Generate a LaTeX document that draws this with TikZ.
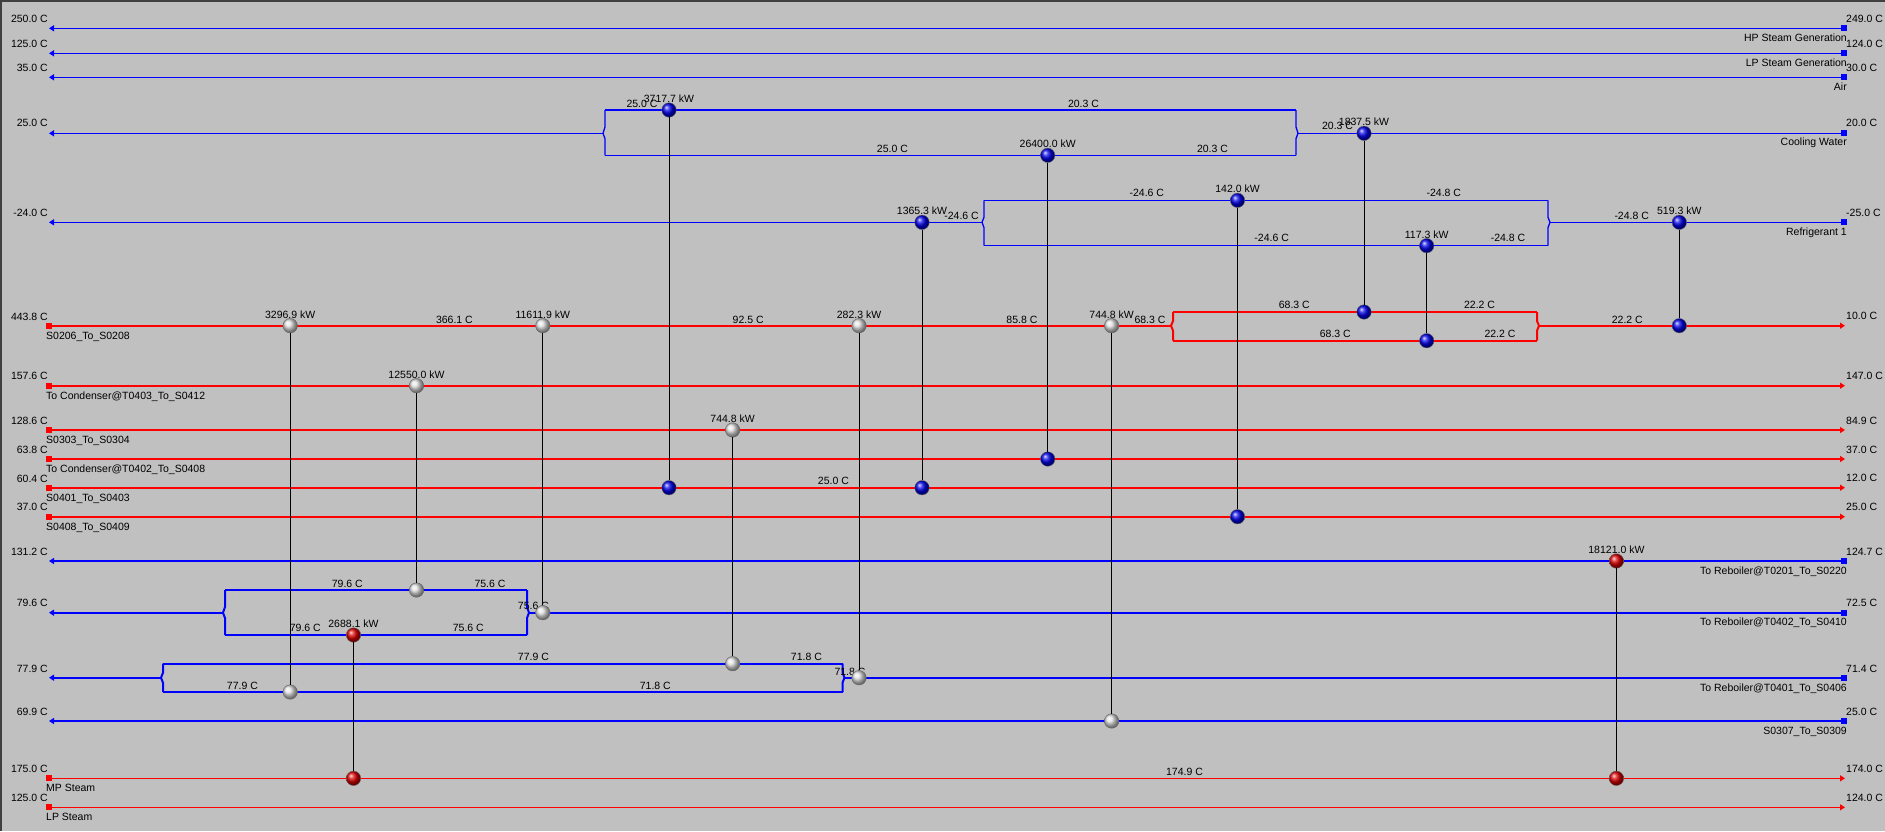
\documentclass[tikz,border=0pt]{standalone}
\usepackage{fontspec}
\setmainfont{Liberation Sans}
\usetikzlibrary{arrows.meta}
\definecolor{bg}{RGB}{192,192,192}

\begin{document}
\begin{tikzpicture}[x=1pt, y=-1pt]

\tikzset{lbl/.style = {font=\fontsize{10.5}{12}\selectfont, inner sep=0pt, text height=7.5pt, text depth=0pt}}
\tikzset{hx/.style = {shape=circle, minimum size=14.5pt, inner sep=0pt, draw=black!60, line width=0.4pt, label distance=2pt}}
\tikzset{cool/.style = {hx, ball color=blue!90!black}}
\tikzset{proc/.style = {hx, ball color=gray!25}}
\tikzset{heat/.style = {hx, ball color=red!85!black}}
\tikzset{src/.style = {shape=rectangle, minimum size=6pt, inner sep=0pt}}
\tikzset{hot/.style = {draw=red, line width=2pt}}
\tikzset{cold/.style = {draw=blue, line width=2pt}}
\tikzset{thin hot/.style = {draw=red, line width=1.3pt}}
\tikzset{thin cold/.style = {draw=blue, line width=1.3pt}}
\tikzset{flowtip/.style = {-{Triangle[length=5pt,width=6pt]}}}
\tikzset{link/.style = {draw=black, line width=0.9pt}}

\useasboundingbox (0,0) rectangle (1885,831);
\fill[bg] (0,0) rectangle (1885,831);
\draw[gray!50!black, line width=2pt] (0,1) -- (1885,1);
\draw[gray!50!black, line width=1.5pt] (0.75,0) -- (0.75,831);

%cold utilities
\node[src, fill=blue] (hp) at (1844,28.3) {};
\coordinate (hpE) at (49,28.3);
\draw[thin cold, flowtip] (hp) -- (hpE);
\node[src, fill=blue] (lpg) at (1844,53.3) {};
\coordinate (lpgE) at (49,53.3);
\draw[thin cold, flowtip] (lpg) -- (lpgE);
\node[src, fill=blue] (air) at (1844,77.3) {};
\coordinate (airE) at (49,77.3);
\draw[thin cold, flowtip] (air) -- (airE);

%cooling water, split
\node[src, fill=blue] (cw) at (1844,133.3) {};
\coordinate (cwR) at (1298,133.3);
\coordinate (cwRt) at (1296,110);
\coordinate (cwRb) at (1296,155.3);
\coordinate (cwL) at (603,133.3);
\coordinate (cwLt) at (605,110);
\coordinate (cwLb) at (605,155.3);
\coordinate (cwE) at (49,133.3);
\draw[thin cold] (cw) -- (cwR);
\draw[thin cold] (cwRt) -- ++(0,17) -- (cwR) -- ++(-2,5.3) -- (cwRb);
\draw[thin cold] (cwRt) -- (cwLt);
\draw[thin cold] (cwRb) -- (cwLb);
\draw[thin cold] (cwLt) -- ++(0,17) -- (cwL) -- ++(2,5.3) -- (cwLb);
\draw[thin cold, flowtip] (cwL) -- (cwE);

%refrigerant, split
\node[src, fill=blue] (ref) at (1844,222.3) {};
\coordinate (refR) at (1550,222.3);
\coordinate (refRt) at (1548,200.3);
\coordinate (refRb) at (1548,245.7);
\coordinate (refL) at (982,222.3);
\coordinate (refLt) at (984,200.3);
\coordinate (refLb) at (984,245.7);
\coordinate (refE) at (49,222.3);
\draw[thin cold] (ref) -- (refR);
\draw[thin cold] (refRt) -- ++(0,17) -- (refR) -- ++(-2,5.3) -- (refRb);
\draw[thin cold] (refRt) -- (refLt);
\draw[thin cold] (refRb) -- (refLb);
\draw[thin cold] (refLt) -- ++(0,17) -- (refL) -- ++(2,5.3) -- (refLb);
\draw[thin cold, flowtip] (refL) -- (refE);

%hot streams
\node[src, fill=red] (s0206) at (49,325.7) {};
\coordinate (s0206L) at (1171,325.7);
\coordinate (s0206Lt) at (1173,312);
\coordinate (s0206Lb) at (1173,340.7);
\coordinate (s0206R) at (1539,325.7);
\coordinate (s0206Rt) at (1537,312);
\coordinate (s0206Rb) at (1537,340.7);
\coordinate (s0206E) at (1845,325.7);
\draw[hot] (s0206) -- (s0206L);
\draw[hot] (s0206Lt) -- ++(0,9) -- (s0206L) -- ++(2,5) -- (s0206Lb);
\draw[hot] (s0206Lt) -- (s0206Rt);
\draw[hot] (s0206Lb) -- (s0206Rb);
\draw[hot] (s0206Rt) -- ++(0,9) -- (s0206R) -- ++(-2,5) -- (s0206Rb);
\draw[hot, flowtip] (s0206R) -- (s0206E);

\node[src, fill=red] (tc0403) at (49,385.7) {};
\coordinate (tc0403E) at (1845,385.7);
\draw[hot, flowtip] (tc0403) -- (tc0403E);
\node[src, fill=red] (s0303) at (49,430) {};
\coordinate (s0303E) at (1845,430);
\draw[hot, flowtip] (s0303) -- (s0303E);
\node[src, fill=red] (tc0402) at (49,459) {};
\coordinate (tc0402E) at (1845,459);
\draw[hot, flowtip] (tc0402) -- (tc0402E);
\node[src, fill=red] (s0401) at (49,487.7) {};
\coordinate (s0401E) at (1845,487.7);
\draw[hot, flowtip] (s0401) -- (s0401E);
\node[src, fill=red] (s0408) at (49,516.7) {};
\coordinate (s0408E) at (1845,516.7);
\draw[hot, flowtip] (s0408) -- (s0408E);

%cold streams
\node[src, fill=blue] (rb0201) at (1844,561) {};
\coordinate (rb0201E) at (49,561);
\draw[cold, flowtip] (rb0201) -- (rb0201E);

\node[src, fill=blue] (rb0402) at (1844,612.7) {};
\coordinate (rb0402R) at (529,612.7);
\coordinate (rb0402Rt) at (527,590);
\coordinate (rb0402Rb) at (527,635);
\coordinate (rb0402L) at (223,612.7);
\coordinate (rb0402Lt) at (225,590);
\coordinate (rb0402Lb) at (225,635);
\coordinate (rb0402E) at (49,612.7);
\draw[cold] (rb0402) -- (rb0402R);
\draw[cold] (rb0402Rt) -- ++(0,17) -- (rb0402R) -- ++(-2,5.3) -- (rb0402Rb);
\draw[cold] (rb0402Rt) -- (rb0402Lt);
\draw[cold] (rb0402Rb) -- (rb0402Lb);
\draw[cold] (rb0402Lt) -- ++(0,17) -- (rb0402L) -- ++(2,5.3) -- (rb0402Lb);
\draw[cold, flowtip] (rb0402L) -- (rb0402E);

\node[src, fill=blue] (rb0401) at (1844,677.7) {};
\coordinate (rb0401R) at (844.5,677.7);
\coordinate (rb0401Rt) at (842.5,663.7);
\coordinate (rb0401Rb) at (842.5,692);
\coordinate (rb0401L) at (161,677.7);
\coordinate (rb0401Lt) at (163,663.7);
\coordinate (rb0401Lb) at (163,692);
\coordinate (rb0401E) at (49,677.7);
\draw[cold] (rb0401) -- (rb0401R);
\draw[cold] (rb0401Rt) -- ++(0,9) -- (rb0401R) -- ++(-2,5) -- (rb0401Rb);
\draw[cold] (rb0401Rt) -- (rb0401Lt);
\draw[cold] (rb0401Rb) -- (rb0401Lb);
\draw[cold] (rb0401Lt) -- ++(0,9) -- (rb0401L) -- ++(2,5) -- (rb0401Lb);
\draw[cold, flowtip] (rb0401L) -- (rb0401E);

\node[src, fill=blue] (s0307) at (1844,721) {};
\coordinate (s0307E) at (49,721);
\draw[cold, flowtip] (s0307) -- (s0307E);

%hot utilities
\node[src, fill=red] (mp) at (49,778.3) {};
\coordinate (mpE) at (1845,778.3);
\draw[thin hot, flowtip] (mp) -- (mpE);
\node[src, fill=red] (lps) at (49,807.3) {};
\coordinate (lpsE) at (1845,807.3);
\draw[thin hot, flowtip] (lps) -- (lpsE);

%supply and target temperatures
\node[lbl, anchor=east] (hpT1) at (48,18.3) {250.0 C};
\node[lbl, anchor=east] (lpgT1) at (48,43.3) {125.0 C};
\node[lbl, anchor=east] (airT1) at (48,67.7) {35.0 C};
\node[lbl, anchor=east] (cwT1) at (48,122.7) {25.0 C};
\node[lbl, anchor=east] (refT1) at (48,212.3) {-24.0 C};
\node[lbl, anchor=east] (s0206T1) at (48,316.7) {443.8 C};
\node[lbl, anchor=east] (tc0403T1) at (48,375.7) {157.6 C};
\node[lbl, anchor=east] (s0303T1) at (48,420.7) {128.6 C};
\node[lbl, anchor=east] (tc0402T1) at (48,449.3) {63.8 C};
\node[lbl, anchor=east] (s0401T1) at (48,478.3) {60.4 C};
\node[lbl, anchor=east] (s0408T1) at (48,506.7) {37.0 C};
\node[lbl, anchor=east] (rb0201T1) at (48,551.7) {131.2 C};
\node[lbl, anchor=east] (rb0402T1) at (48,602.7) {79.6 C};
\node[lbl, anchor=east] (rb0401T1) at (48,668.7) {77.9 C};
\node[lbl, anchor=east] (s0307T1) at (48,711.7) {69.9 C};
\node[lbl, anchor=east] (mpT1) at (48,768.7) {175.0 C};
\node[lbl, anchor=east] (lpsT1) at (48,797.3) {125.0 C};

\node[lbl, anchor=west] (hpT2) at (1846,18.3) {249.0 C};
\node[lbl, anchor=west] (lpgT2) at (1846,43.3) {124.0 C};
\node[lbl, anchor=west] (airT2) at (1846,67.7) {30.0 C};
\node[lbl, anchor=west] (cwT2) at (1846,122.7) {20.0 C};
\node[lbl, anchor=west] (refT2) at (1846,212.3) {-25.0 C};
\node[lbl, anchor=west] (s0206T2) at (1846,316) {10.0 C};
\node[lbl, anchor=west] (tc0403T2) at (1846,375.7) {147.0 C};
\node[lbl, anchor=west] (s0303T2) at (1846,420.7) {84.9 C};
\node[lbl, anchor=west] (tc0402T2) at (1846,449.3) {37.0 C};
\node[lbl, anchor=west] (s0401T2) at (1846,477.3) {12.0 C};
\node[lbl, anchor=west] (s0408T2) at (1846,506.7) {25.0 C};
\node[lbl, anchor=west] (rb0201T2) at (1846,551.7) {124.7 C};
\node[lbl, anchor=west] (rb0402T2) at (1846,602.7) {72.5 C};
\node[lbl, anchor=west] (rb0401T2) at (1846,668.7) {71.4 C};
\node[lbl, anchor=west] (s0307T2) at (1846,711.7) {25.0 C};
\node[lbl, anchor=west] (mpT2) at (1846,768.7) {174.0 C};
\node[lbl, anchor=west] (lpsT2) at (1846,797.3) {124.0 C};

%stream names
\node[lbl, anchor=east] (hpN) at (1847,37.7) {HP Steam Generation};
\node[lbl, anchor=east] (lpgN) at (1847,62.7) {LP Steam Generation};
\node[lbl, anchor=east] (airN) at (1847,86.7) {Air};
\node[lbl, anchor=east] (cwN) at (1847,141.7) {Cooling Water};
\node[lbl, anchor=east] (refN) at (1847,231.7) {Refrigerant 1};
\node[lbl, anchor=east] (rb0201N) at (1847,570.7) {To Reboiler@T0201\_To\_S0220};
\node[lbl, anchor=east] (rb0402N) at (1847,621.7) {To Reboiler@T0402\_To\_S0410};
\node[lbl, anchor=east] (rb0401N) at (1847,687.7) {To Reboiler@T0401\_To\_S0406};
\node[lbl, anchor=east] (s0307N) at (1847,730.3) {S0307\_To\_S0309};
\node[lbl, anchor=west] (s0206N) at (46,335.7) {S0206\_To\_S0208};
\node[lbl, anchor=west] (tc0403N) at (46,395.7) {To Condenser@T0403\_To\_S0412};
\node[lbl, anchor=west] (s0303N) at (46,440) {S0303\_To\_S0304};
\node[lbl, anchor=west] (tc0402N) at (46,468.7) {To Condenser@T0402\_To\_S0408};
\node[lbl, anchor=west] (s0401N) at (46,497.7) {S0401\_To\_S0403};
\node[lbl, anchor=west] (s0408N) at (46,526.7) {S0408\_To\_S0409};
\node[lbl, anchor=west] (mpN) at (46,787.7) {MP Steam};
\node[lbl, anchor=west] (lpsN) at (46,816.7) {LP Steam};

%intermediate temperatures
\node[lbl] (t1) at (642,103.7) {25.0 C};
\node[lbl] (t2) at (1083.5,103.7) {20.3 C};
\node[lbl] (t3) at (892.4,148.7) {25.0 C};
\node[lbl] (t4) at (1212.5,148.7) {20.3 C};
\node[lbl] (t5) at (1337.6,125.7) {20.3 C};
\node[lbl] (t6) at (961.6,215.7) {-24.6 C};
\node[lbl] (t7) at (1146.8,192.7) {-24.6 C};
\node[lbl] (t8) at (1443.8,192.3) {-24.8 C};
\node[lbl] (t9) at (1271.7,237.7) {-24.6 C};
\node[lbl] (t10) at (1508,237.7) {-24.8 C};
\node[lbl] (t11) at (1631.7,215.7) {-24.8 C};
\node[lbl] (t12) at (454.4,320) {366.1 C};
\node[lbl] (t13) at (748.2,319.3) {92.5 C};
\node[lbl] (t14) at (1021.9,319.3) {85.8 C};
\node[lbl] (t15) at (1150,319.7) {68.3 C};
\node[lbl] (t16) at (1294.3,304.3) {68.3 C};
\node[lbl] (t17) at (1335.3,333.3) {68.3 C};
\node[lbl] (t18) at (1479.6,304.3) {22.2 C};
\node[lbl] (t19) at (1500,333.3) {22.2 C};
\node[lbl] (t20) at (1627.3,319.3) {22.2 C};
\node[lbl] (t21) at (833.4,480.7) {25.0 C};
\node[lbl] (t22) at (347.3,583.3) {79.6 C};
\node[lbl] (t23) at (490,583.3) {75.6 C};
\node[lbl] (t24) at (305.3,627.3) {79.6 C};
\node[lbl] (t25) at (468.3,627.3) {75.6 C};
\node[lbl] (t26) at (533.4,605.7) {75.6 C};
\node[lbl] (t27) at (533.4,656.7) {77.9 C};
\node[lbl] (t28) at (242.4,685.3) {77.9 C};
\node[lbl] (t29) at (655.3,685.3) {71.8 C};
\node[lbl] (t30) at (806.4,656.3) {71.8 C};
\node[lbl] (t31) at (850,671.7) {71.8 C};
\node[lbl] (t32) at (1184.5,771.7) {174.9 C};

%exchangers
\node[cool, label={[lbl]above:3717.7 kW}] (e1a) at (669,110) {};
\node[cool] (e1b) at (669,487.7) {};
\node[cool, label={[lbl]above:26400.0 kW}] (e2a) at (1047.7,155.3) {};
\node[cool] (e2b) at (1047.7,459) {};
\node[cool, label={[lbl]above:1837.5 kW}] (e3a) at (1364,133.3) {};
\node[cool] (e3b) at (1364,312) {};
\node[cool, label={[lbl]above:1365.3 kW}] (e4a) at (922,222.3) {};
\node[cool] (e4b) at (922,487.7) {};
\node[cool, label={[lbl]above:142.0 kW}] (e5a) at (1237.5,200.3) {};
\node[cool] (e5b) at (1237.5,516.7) {};
\node[cool, label={[lbl]above:117.3 kW}] (e6a) at (1426.7,245.7) {};
\node[cool] (e6b) at (1426.7,340.7) {};
\node[cool, label={[lbl]above:519.3 kW}] (e7a) at (1679.3,222.3) {};
\node[cool] (e7b) at (1679.3,325.7) {};
\node[proc, label={[lbl]above:3296.9 kW}] (e8a) at (290.2,325.7) {};
\node[proc] (e8b) at (290.2,692) {};
\node[proc, label={[lbl]above:11611.9 kW}] (e9a) at (542.8,325.7) {};
\node[proc] (e9b) at (542.8,612.7) {};
\node[proc, label={[lbl]above:12550.0 kW}] (e10a) at (416.5,385.7) {};
\node[proc] (e10b) at (416.5,590) {};
\node[proc, label={[lbl]above:744.8 kW}] (e11a) at (732.6,430) {};
\node[proc] (e11b) at (732.6,663.7) {};
\node[proc, label={[lbl]above:282.3 kW}] (e12a) at (859,325.7) {};
\node[proc] (e12b) at (859,677.7) {};
\node[proc, label={[lbl]above:744.8 kW}] (e13a) at (1111.6,325.7) {};
\node[proc] (e13b) at (1111.6,721) {};
\node[heat, label={[lbl]above:2688.1 kW}] (e14a) at (353.5,635) {};
\node[heat] (e14b) at (353.5,778.3) {};
\node[heat, label={[lbl]above:18121.0 kW}] (e15a) at (1616.4,561) {};
\node[heat] (e15b) at (1616.4,778.3) {};

%matches
\draw[link] (e1a) -- (e1b);
\draw[link] (e2a) -- (e2b);
\draw[link] (e3a) -- (e3b);
\draw[link] (e4a) -- (e4b);
\draw[link] (e5a) -- (e5b);
\draw[link] (e6a) -- (e6b);
\draw[link] (e7a) -- (e7b);
\draw[link] (e8a) -- (e8b);
\draw[link] (e9a) -- (e9b);
\draw[link] (e10a) -- (e10b);
\draw[link] (e11a) -- (e11b);
\draw[link] (e12a) -- (e12b);
\draw[link] (e13a) -- (e13b);
\draw[link] (e14a) -- (e14b);
\draw[link] (e15a) -- (e15b);

\end{tikzpicture}
\end{document}
